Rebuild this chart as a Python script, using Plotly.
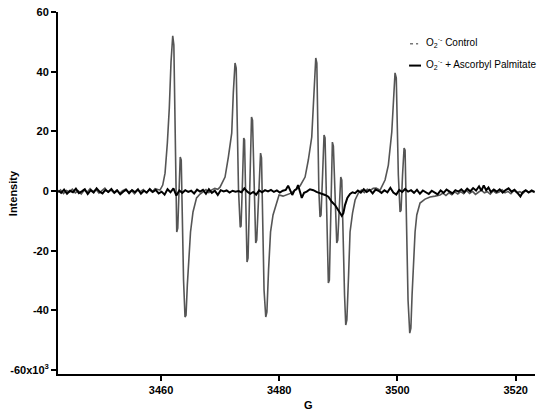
import plotly.graph_objects as go

# ---- Control (O2.- ) spectrum ----
control_G = [
    3442.6, 3443.0, 3443.5, 3444.0, 3444.5, 3445.0, 3445.5, 3446.0, 3446.5, 3447.0,
    3447.5, 3448.0, 3448.5, 3449.0, 3449.5, 3450.0, 3450.5, 3451.0, 3451.5, 3452.0,
    3452.5, 3453.0, 3453.5, 3454.0, 3454.5, 3455.0, 3455.5, 3456.0, 3456.5, 3457.0,
    3457.5, 3458.0, 3458.5, 3459.0, 3459.5,
    3459.83, 3460.29, 3460.68, 3461.07, 3461.40, 3461.69, 3461.98, 3462.17, 3462.34, 3462.50,
    3462.66, 3462.83, 3463.01, 3463.25, 3463.42, 3463.60, 3463.81, 3464.06, 3464.23, 3464.45,
    3464.69, 3464.99, 3465.41, 3466.01, 3466.60,
    3467.1, 3467.6, 3468.1, 3468.6, 3469.1, 3469.6,
    3469.98, 3470.83, 3471.39, 3471.96, 3472.23, 3472.52, 3472.72, 3472.91, 3473.11, 3473.40,
    3473.54, 3473.79, 3473.99, 3474.13, 3474.35, 3474.55, 3474.72, 3474.97, 3475.31, 3475.48,
    3475.74, 3476.02, 3476.19, 3476.50, 3476.84, 3477.00, 3477.21, 3477.43, 3477.72, 3477.91,
    3478.19, 3478.53, 3478.95, 3479.46, 3479.97,
    3480.64, 3481.32, 3482.00, 3482.67, 3483.18,
    3483.52, 3484.37, 3484.92, 3485.50, 3485.77, 3486.18, 3486.36, 3486.53, 3486.70, 3486.90,
    3487.07, 3487.33, 3487.58, 3487.75, 3488.00, 3488.31, 3488.48, 3488.73, 3488.99, 3489.16,
    3489.44, 3489.73, 3489.90, 3490.15, 3490.41, 3490.58, 3490.79, 3491.05, 3491.25, 3491.44,
    3491.73, 3491.98, 3492.40, 3492.83, 3493.38,
    3493.9, 3494.4, 3494.9, 3495.4, 3495.9, 3496.4,
    3497.06, 3497.90, 3498.46, 3499.04, 3499.31, 3499.59, 3499.80, 3499.98, 3500.15, 3500.44,
    3500.61, 3500.86, 3501.12, 3501.29, 3501.54, 3501.79, 3502.08, 3502.27, 3502.47, 3502.69,
    3502.98, 3503.27, 3503.82, 3504.67, 3505.52, 3506.36,
    3507.2, 3507.7, 3508.2, 3508.7, 3509.2, 3509.7, 3510.2, 3510.7, 3511.2, 3511.7,
    3512.2, 3512.7, 3513.2, 3513.7, 3514.2, 3514.7, 3515.2, 3515.7, 3516.2, 3516.7,
    3517.2, 3517.7, 3518.2, 3518.7, 3519.2, 3519.7, 3520.2, 3520.7, 3521.2, 3521.7,
    3522.2, 3522.7, 3523.2,
]
control_I = [
    -0.5, 0.4, -0.8, 0.2, -0.3, 0.6, -0.6, 0.1, -1.0, 0.3,
    -0.4, 0.8, -0.2, 0.5, -0.7, 0.2, 1.0, -0.3, 0.4, -0.5,
    0.3, -0.8, 0.1, 0.6, -0.4, 0.2, -0.9, 0.3, -0.2, 0.5,
    -0.6, 0.4, -0.3, 0.8, 0.5,
    0.3, 2.0, 6.0, 16.1, 27.8, 43.2, 52.0, 48.9, 27.2, 0.3,
    -13.7, -12.4, 0.3, 11.4, 10.4, -9.7, -29.8, -42.2, -41.6, -31.5,
    -21.5, -13.7, -7.0, -2.3, -1.0,
    -0.3, 0.5, -0.5, 0.4, 0.9, 0.6,
    1.3, 4.7, 11.4, 19.4, 32.9, 42.9, 41.2, 20.4, 0.3, -12.1,
    -11.7, 3.7, 17.8, 17.1, -6.4, -23.8, -22.5, 0.3, 24.8, 23.8,
    3.7, -17.4, -16.4, 0.3, 12.7, 11.1, -13.1, -33.2, -42.2, -40.6,
    -26.5, -13.7, -8.0, -4.7, -1.3,
    -1.7, -1.3, -0.7, 0.3, 1.0,
    1.7, 4.7, 10.4, 18.1, 30.5, 44.6, 42.9, 20.4, 0.3, -8.7,
    -8.0, 5.4, 18.8, 17.8, -6.4, -30.8, -29.8, -4.7, 16.4, 15.1,
    -3.0, -17.4, -16.4, -4.7, 4.7, 3.7, -16.4, -34.9, -44.9, -43.2,
    -28.2, -13.7, -7.4, -3.0, -0.7,
    0.3, -0.5, 0.6, 0.2, 0.9, 1.0,
    0.3, 3.7, 8.7, 19.8, 31.2, 39.6, 37.9, 20.4, 5.4, -7.0,
    -6.4, 5.4, 14.4, 13.7, -13.1, -36.5, -47.6, -45.9, -34.9, -24.8,
    -13.7, -8.0, -4.0, -2.7, -2.0, -1.7,
    -1.3, -0.7, -1.5, -0.6, -1.2, -0.3, -1.0, -0.2, -0.9, 0.2,
    -0.8, -0.1, -1.1, -0.4, 0.3, -0.6, -0.2, -1.0, 0.1, -0.7,
    -0.3, 0.4, -0.6, -0.1, -0.9, 0.2, -0.5, -0.2, -0.8, 0.1,
    -0.4, -0.1, -0.5,
]

# ---- O2.- + Ascorbyl Palmitate spectrum ----
treated_G = [
    3442.6, 3443.1, 3443.6, 3444.1, 3444.6, 3445.1, 3445.6, 3446.1, 3446.6, 3447.1,
    3447.6, 3448.1, 3448.6, 3449.1, 3449.6, 3450.1, 3450.6, 3451.1, 3451.6, 3452.1,
    3452.6, 3453.1, 3453.6, 3454.1, 3454.6, 3455.1, 3455.6, 3456.1, 3456.6, 3457.1,
    3457.6, 3458.1, 3458.6, 3459.1, 3459.6, 3460.1, 3460.6, 3461.1, 3461.6, 3462.1,
    3462.6, 3463.1, 3463.6, 3464.1, 3464.6, 3465.1, 3465.6, 3466.1, 3466.6, 3467.1,
    3467.6, 3468.1, 3468.6, 3469.1, 3469.6, 3470.1, 3470.6, 3471.1, 3471.6, 3472.1,
    3472.6, 3473.1, 3473.6, 3474.1, 3474.6, 3475.1, 3475.6, 3476.1, 3476.6, 3477.1,
    3477.6, 3478.1, 3478.6, 3479.1, 3479.6, 3480.1, 3480.6, 3481.1, 3481.5, 3481.9,
    3482.2, 3482.6, 3482.9, 3483.18, 3483.5, 3483.81, 3484.2, 3484.65, 3485.2, 3485.77,
    3486.3, 3486.90, 3487.3, 3487.75, 3488.31, 3488.88, 3489.44, 3490.0, 3490.58, 3490.85,
    3491.13, 3491.52, 3491.98, 3492.4, 3492.83,
    3493.3, 3493.8, 3494.3, 3494.8, 3495.3, 3495.8, 3496.3, 3496.8, 3497.3, 3497.8,
    3498.3, 3498.8, 3499.3, 3499.8, 3500.3, 3500.8, 3501.3, 3501.8, 3502.3, 3502.8,
    3503.3, 3503.8, 3504.3, 3504.8, 3505.3, 3505.8, 3506.3, 3506.8, 3507.3, 3507.8,
    3508.3, 3508.8, 3509.3, 3509.8, 3510.3, 3510.8, 3511.3, 3511.8, 3512.3, 3512.8,
    3513.3, 3513.8, 3514.2, 3514.6, 3515.0, 3515.4, 3515.8, 3516.3, 3516.8, 3517.3,
    3517.8, 3518.3, 3518.8, 3519.3, 3519.8, 3520.3, 3520.8, 3521.2, 3521.7, 3522.2,
    3522.7, 3523.2,
]
treated_I = [
    0.2, -0.6, 0.5, -0.9, 0.1, -0.4, 0.8, -0.7, -0.1, 0.6,
    -1.0, 0.3, -0.5, 0.9, -0.2, -0.8, 0.4, -0.3, 0.7, -0.6,
    0.2, -1.1, -0.2, 0.5, -0.7, 0.3, -0.4, 0.6, -0.9, 0.1,
    -0.5, 0.7, -0.3, 0.4, -0.8, -0.2, -1.2, 0.6, -0.4, 0.9,
    -1.5, 0.2, -0.6, 0.3, -0.3, 0.1, -0.8, 0.5, -0.2, 0.4,
    -0.9, 0.6, -0.6, 0.1, -1.3, 0.3, -0.1, 0.2, -0.5, 0.1,
    -0.2, 0.0, -0.4, 0.9, -0.2, -0.9, -0.3, -1.2, 0.2, -0.4,
    0.3, -0.1, 0.4, -0.3, 0.2, -0.5, 0.1, 0.4, 1.8, -0.2,
    -1.3, 0.3, 0.6, 2.0, -0.4, -2.3, -0.6, -0.2, 0.6, 0.3,
    -0.3, -0.7, -0.9, -1.3, -1.9, -3.6, -4.7, -6.4, -8.3, -7.4,
    -4.7, -2.3, -1.0, -0.4, -0.7,
    0.2, -0.5, 0.6, -0.3, 0.4, -0.8, 0.5, 0.1, -0.6, 0.3,
    -0.4, 1.1, -0.5, -1.2, 0.4, -0.3, 0.7, -0.2, 0.3, -0.6,
    0.4, -0.9, 0.2, -0.3, -1.0, 0.1, -0.4, -1.1, 0.2, -0.6,
    0.5, -0.3, -0.8, 0.3, -0.2, 0.6, -0.4, 0.8, -0.1, 1.0,
    0.2, 1.6, 0.1, 1.9, 0.3, 1.2, -0.3, 0.5, -0.2, 0.6,
    -0.5, 0.3, 0.9, -0.2, 0.4, -0.6, -1.8, -0.4, 0.3, -0.5,
    0.2, -0.3,
]

series_names = ["O<sub>2</sub><sup>·-</sup> Control",
                "O<sub>2</sub><sup>·-</sup> + Ascorbyl Palmitate"]
y_ticks = [-60, -40, -20, 0, 20, 40, 60]
y_ticktext = ["-60x10<sup>3</sup>", "-40", "-20", "0", "20", "40", "60"]
x_ticks = [3460, 3480, 3500, 3520]
x_title = "G"
y_title = "Intensity"

label_font = dict(family="Liberation Sans Narrow, Liberation Sans, Arial, sans-serif",
                  size=11, color="black", weight=700)
legend_font = dict(family="Liberation Sans, Arial, sans-serif", size=10, color="black")

fig = go.Figure()
fig.add_trace(go.Scatter(x=control_G, y=control_I, mode="lines", name=series_names[0],
                         line=dict(color="#555555", width=1.6),
                         showlegend=False, hoverinfo="skip"))
fig.add_trace(go.Scatter(x=treated_G, y=treated_I, mode="lines", name=series_names[1],
                         line=dict(color="black", width=2),
                         showlegend=False, hoverinfo="skip"))

# the page body has an 8px margin, compensated in the figure margins
fig.update_layout(
    width=560, height=414,
    margin=dict(l=50, r=33, t=4, b=48),
    plot_bgcolor="white", paper_bgcolor="white",
    showlegend=False,
    xaxis=dict(range=[3442.57, 3523.27], tickvals=x_ticks, showgrid=False, zeroline=False,
               showline=True, linecolor="black", linewidth=2, automargin=False,
               ticks="outside", ticklen=5, tickwidth=2, tickcolor="black",
               tickfont=label_font, ticklabeloverflow="allow"),
    yaxis=dict(range=[-61.3, 60], tickvals=y_ticks, ticktext=y_ticktext,
               showgrid=False, zeroline=False, automargin=False,
               showline=True, linecolor="black", linewidth=2,
               ticks="outside", ticklen=5, tickwidth=2, tickcolor="black",
               tickfont=label_font, ticklabeloverflow="allow"),
    annotations=[
        dict(text=y_title, xref="paper", yref="paper", x=-0.094, y=0.5,
             xanchor="center", yanchor="middle",
             textangle=-90, showarrow=False, font=label_font),
        dict(text=x_title, xref="paper", yref="paper", x=0.526, y=-0.0856,
             xanchor="center", yanchor="middle", showarrow=False, font=label_font),
        dict(text=series_names[0], xref="paper", yref="paper", x=0.767, y=0.917,
             xanchor="left", yanchor="middle", showarrow=False, font=legend_font),
        dict(text=series_names[1], xref="paper", yref="paper", x=0.767, y=0.854,
             xanchor="left", yanchor="middle", showarrow=False, font=legend_font),
    ],
    shapes=[
        dict(type="line", xref="paper", yref="paper", x0=0.738, x1=0.755, y0=0.912, y1=0.912,
             line=dict(color="#777777", width=1.5, dash="dot")),
        dict(type="line", xref="paper", yref="paper", x0=0.736, x1=0.761, y0=0.852, y1=0.852,
             line=dict(color="black", width=2)),
    ],
)

fig.write_html("out.html")
